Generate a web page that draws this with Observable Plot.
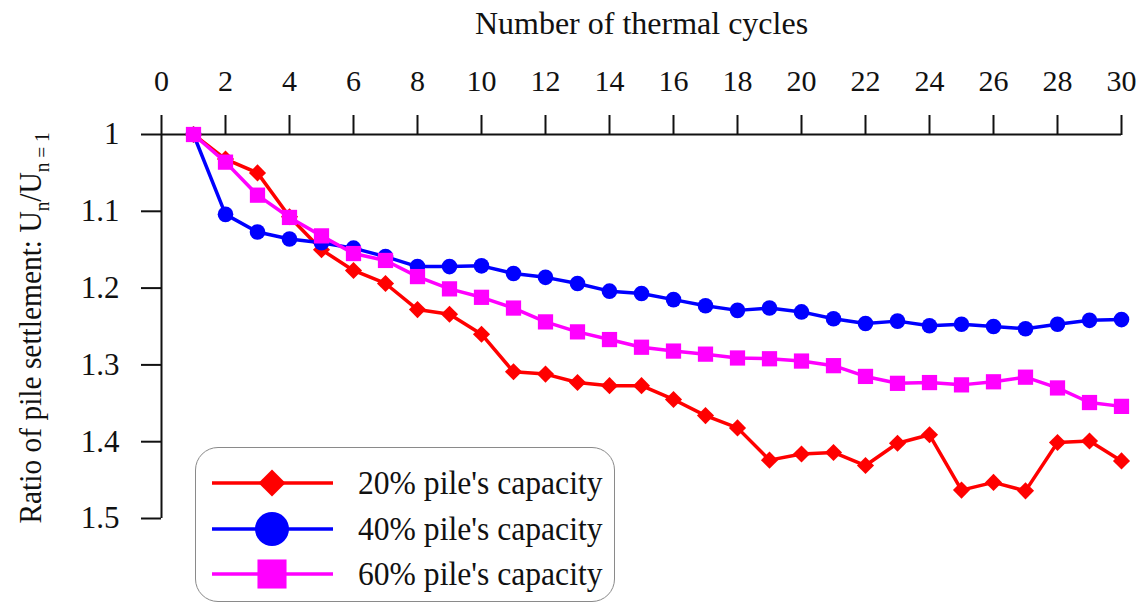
<!DOCTYPE html>
<html>
<head>
<meta charset="utf-8">
<script src="https://cdn.jsdelivr.net/npm/d3@7"></script>
<script src="https://cdn.jsdelivr.net/npm/@observablehq/plot@0.6"></script>
<style>
  html, body { margin: 0; padding: 0; background: #fff; }
  #chart { position: relative; width: 1142px; height: 605px; font-family: "Liberation Serif", "Times New Roman", serif; color: #111; }
  #chart svg { display: block; }
  .legend { position: absolute; left: 195px; top: 447px; width: 420px; height: 155px; box-sizing: border-box;
            border: 1.5px solid #8a8a8a; border-radius: 23px; background: #fff; }
  .legend .row { position: absolute; left: 0; height: 46px; display: flex; align-items: center; }
  .legend .row svg { margin-left: 16px; flex: none; }
  .legend .row span { display: inline-block; font-size: 34px; line-height: 40px; margin-left: 25px; white-space: nowrap;
                      transform: scaleX(0.93); transform-origin: left center; }
</style>
</head>
<body>
<div id="chart"></div>
<script>
// Thermal cycle number
const cycles = [1, 2, 3, 4, 5, 6, 7, 8, 9, 10, 11, 12, 13, 14, 15, 16, 17, 18, 19, 20, 21, 22, 23, 24, 25, 26, 27, 28, 29, 30];

// Settlement ratio U_n / U_{n=1} for each load level
const load20 = [1.000, 1.032, 1.050, 1.107, 1.150, 1.177, 1.194, 1.228, 1.234, 1.260, 1.309, 1.312, 1.323, 1.327, 1.327,
                1.345, 1.366, 1.382, 1.424, 1.416, 1.414, 1.431, 1.402, 1.391, 1.463, 1.453, 1.464, 1.401, 1.399, 1.425];
const load40 = [1.000, 1.104, 1.127, 1.136, 1.141, 1.148, 1.159, 1.172, 1.172, 1.171, 1.181, 1.186, 1.194, 1.204, 1.207,
                1.215, 1.223, 1.229, 1.226, 1.231, 1.240, 1.246, 1.243, 1.249, 1.247, 1.250, 1.253, 1.247, 1.242, 1.241];
const load60 = [1.000, 1.036, 1.079, 1.108, 1.132, 1.155, 1.164, 1.185, 1.201, 1.212, 1.226, 1.244, 1.257, 1.267, 1.277,
                1.282, 1.286, 1.291, 1.292, 1.295, 1.301, 1.315, 1.324, 1.323, 1.326, 1.322, 1.316, 1.330, 1.349, 1.354];

const seriesNames = ["20% pile's capacity", "40% pile's capacity", "60% pile's capacity"];
const seriesColors = ["#ff0000", "#0000ff", "#ff00ff"];
const seriesSymbols = ["diamond2", "circle", "square"];
const seriesValues = [load20, load40, load60];

const xTicks = [0, 2, 4, 6, 8, 10, 12, 14, 16, 18, 20, 22, 24, 26, 28, 30];
const yTicks = [1, 1.1, 1.2, 1.3, 1.4, 1.5];

const xTitle = "Number of thermal cycles";

const FONT = "'Liberation Serif', 'Times New Roman', serif";

const series = seriesNames.map((name, k) =>
  cycles.map((c, i) => ({cycle: c, ratio: seriesValues[k][i], name}))
);

const markR = [7.7, 7.8, 8.6];

const marks = [
  Plot.axisX({anchor: "top", ticks: xTicks, tickSize: 20, tickPadding: 24, tickFormat: d => String(d),
              strokeWidth: 2, fontSize: 30, label: null}),
  Plot.axisY({anchor: "left", ticks: yTicks, tickSize: 20, tickPadding: 22, tickFormat: d => String(d),
              strokeWidth: 2, fontSize: 31, label: null}),
  // x-axis title above the tick labels
  Plot.text([xTitle], {frameAnchor: "top", lineAnchor: "bottom", dy: -101, fontSize: 32, fill: "#111"}),
  Plot.ruleY([1], {stroke: "#111", strokeWidth: 2}),
  Plot.ruleX([0], {stroke: "#111", strokeWidth: 2})
];

series.forEach((data, k) => {
  marks.push(Plot.line(data, {x: "cycle", y: "ratio", stroke: seriesColors[k], strokeWidth: 3.5}));
  marks.push(Plot.dot(data, {x: "cycle", y: "ratio", fill: seriesColors[k], stroke: "none",
                             symbol: seriesSymbols[k], r: markR[k]}));
});

const plot = Plot.plot({
  width: 1142,
  height: 605,
  marginTop: 134,
  marginBottom: 87,
  marginLeft: 161,
  marginRight: 21,
  style: {fontFamily: FONT, fontSize: "31px", color: "#111", background: "#fff"},
  x: {domain: [0, 30]},
  y: {domain: [1, 1.5], reverse: true},
  marks
});

const chart = document.getElementById("chart");
chart.appendChild(plot);

// Rotated y-axis title with subscripts, slightly condensed along its length
const svg = d3.select(plot);
const yTitle = svg.append("text")
  .attr("transform", "translate(41,328) rotate(-90) scale(0.92,1)")
  .attr("text-anchor", "middle")
  .attr("font-family", FONT)
  .attr("font-size", 32)
  .attr("fill", "#111");
yTitle.append("tspan").text("Ratio of pile settlement: U");
yTitle.append("tspan").attr("font-size", 21).attr("dy", 8).text("n");
yTitle.append("tspan").attr("dy", -8).text("/U");
yTitle.append("tspan").attr("font-size", 21).attr("dy", 8).text("n = 1");

// Legend
const legend = document.createElement("div");
legend.className = "legend";
const rowTops = [12, 58, 103];
const legendR = [12.2, 17, 16.4];
seriesNames.forEach((name, k) => {
  const row = document.createElement("div");
  row.className = "row";
  row.style.top = rowTops[k] + "px";
  const s = d3.create("svg").attr("width", 121).attr("height", 40);
  s.append("line").attr("x1", 0).attr("x2", 121).attr("y1", 20).attr("y2", 20)
    .attr("stroke", seriesColors[k]).attr("stroke-width", 3.5);
  const sym = {diamond2: d3.symbolDiamond2, circle: d3.symbolCircle, square: d3.symbolSquare}[seriesSymbols[k]];
  s.append("path").attr("d", d3.symbol(sym, Math.PI * legendR[k] * legendR[k])())
    .attr("transform", "translate(60,20)").attr("fill", seriesColors[k]);
  row.appendChild(s.node());
  const label = document.createElement("span");
  label.textContent = name;
  row.appendChild(label);
  legend.appendChild(row);
});
chart.appendChild(legend);
</script>
</body>
</html>
